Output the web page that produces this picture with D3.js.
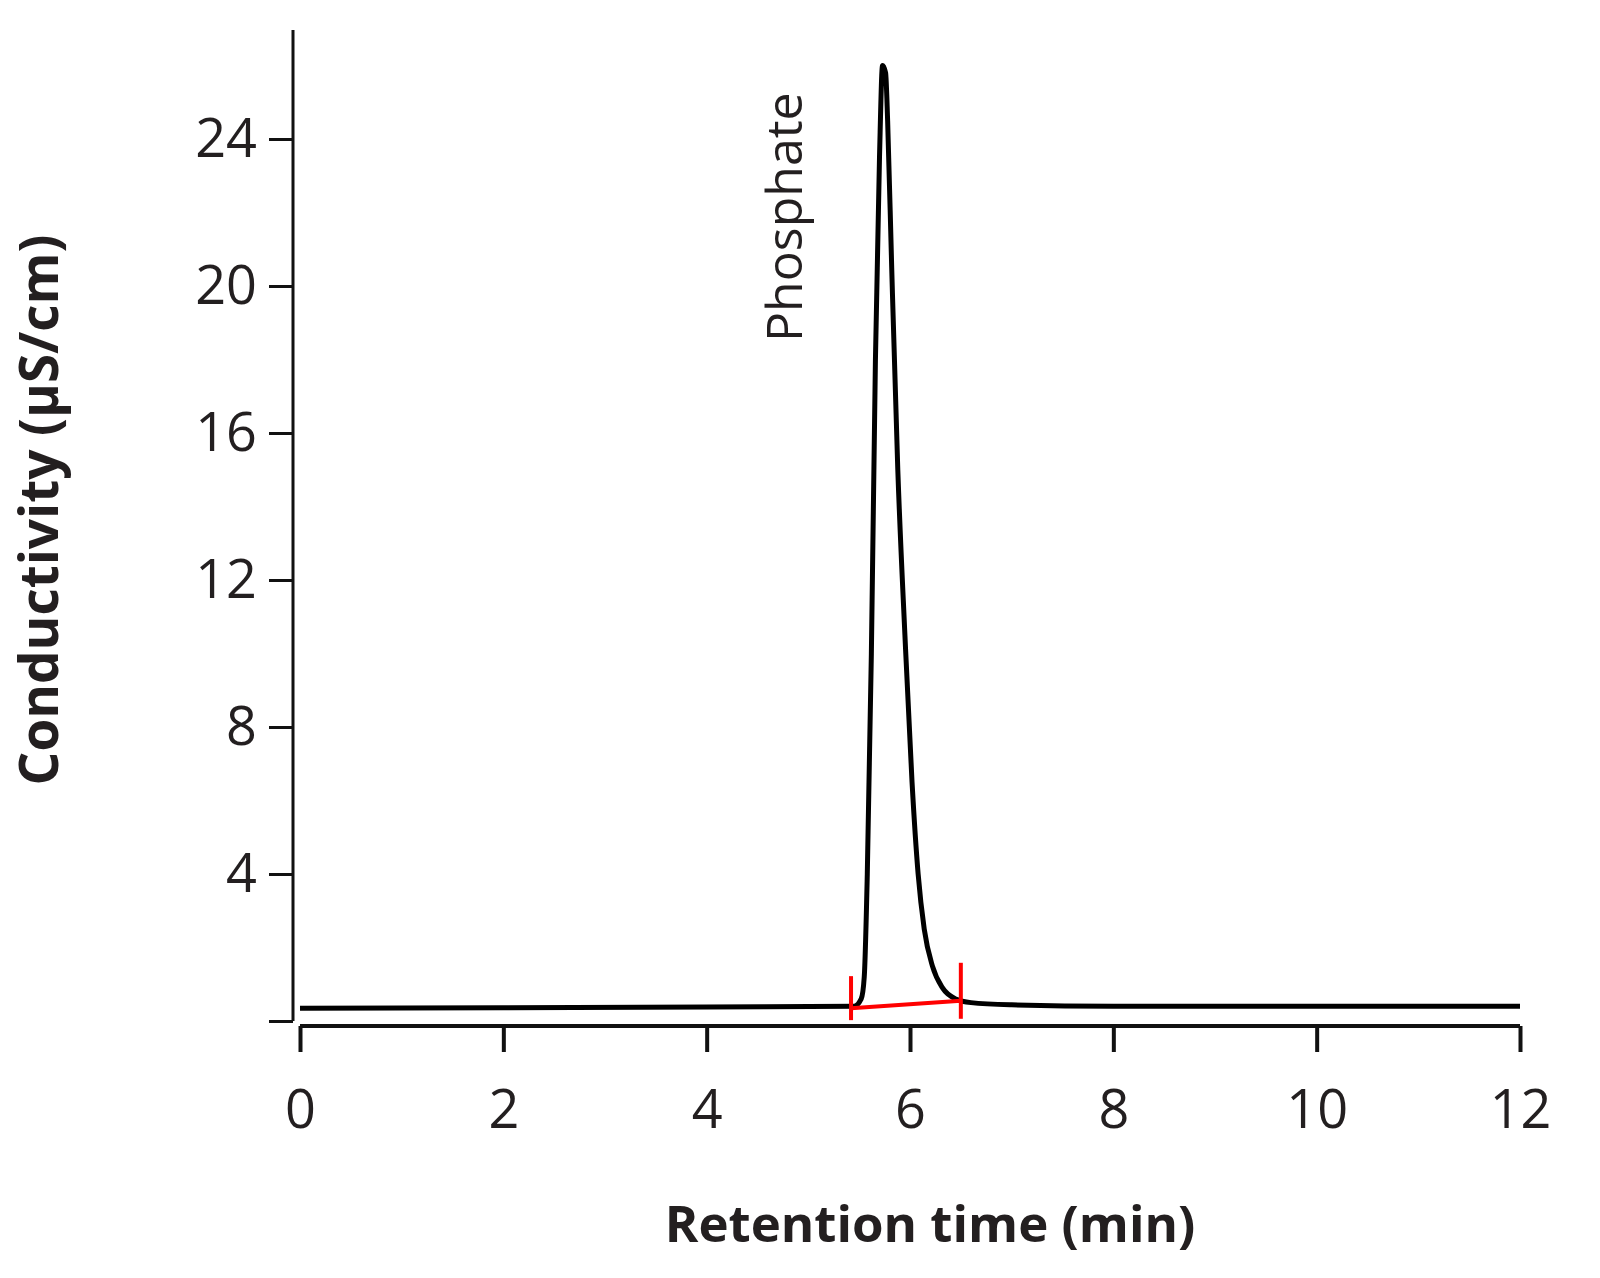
<!DOCTYPE html><html><head><meta charset="utf-8">
<script src="https://d3js.org/d3.v7.min.js"></script>
<style>body{margin:0;background:#fff}text{font-family:"Open Sans",sans-serif;fill:#231f20}</style></head><body>
<svg id="c" width="1600" height="1278"></svg>
<script>
const times=[0,2,4,5.45,5.52,5.55,5.58,5.62,5.66,5.70,5.73,5.76,5.78,5.82,5.88,5.95,6.02,6.08,6.14,6.22,6.32,6.45,6.6,7,8,10,12];
const signal=[0.35,0.36,0.38,0.40,0.6,1.2,4,10,18,23.5,26.0,25.8,24.5,20.5,15,10.5,6.5,4,2.5,1.5,0.9,0.6,0.5,0.44,0.4,0.4,0.4];
const xTicks=[0,2,4,6,8,10,12];
const yTicks=[0,4,8,12,16,20,24];
const baselineT=[5.42,6.5], baselineV=[0.35,0.55];
const peakLabel="Phosphate", peakT=5.6;

const svg=d3.select("#c");
const x=d3.scaleLinear().domain([0,12]).range([300,1520]);
const y=d3.scaleLinear().domain([0,24]).range([1021,139]);
svg.append("line").attr("x1",293).attr("x2",293).attr("y1",30).attr("y2",1021).attr("stroke","#111").attr("stroke-width",3);
const ya=svg.append("g").attr("transform","translate(293,0)").call(d3.axisLeft(y).tickValues(yTicks).tickSize(24).tickPadding(12).tickFormat(d=>d===0?"":d));
ya.select(".domain").remove();
ya.selectAll("line").attr("stroke","#111").attr("stroke-width",3);
ya.selectAll("text").attr("font-size",54).style("fill","#231f20");
const xa=svg.append("g").attr("transform","translate(0,1026)").call(d3.axisBottom(x).tickValues(xTicks).tickSize(26).tickPadding(38));
xa.select(".domain").remove();
svg.append("line").attr("x1",300).attr("x2",1520).attr("y1",1026).attr("y2",1026).attr("stroke","#111").attr("stroke-width",4);
xa.selectAll("line").attr("stroke","#111").attr("stroke-width",4);
xa.selectAll("text").attr("font-size",54).style("fill","#231f20");
svg.append("text").attr("x",930).attr("y",1242).attr("text-anchor","middle").attr("font-size",51).attr("font-weight","bold").text("Retention time (min)");
svg.append("text").attr("transform","translate(58,510) rotate(-90)").attr("text-anchor","middle").attr("font-size",53).attr("font-weight","bold").text("Conductivity (µS/cm)");
svg.append("path").datum(times.map((t,i)=>[t,signal[i]])).attr("fill","none").attr("stroke","#000").attr("stroke-width",5)
 .attr("d",d3.line().x(d=>x(d[0])).y(d=>y(d[1])).curve(d3.curveMonotoneX));
svg.append("line").attr("x1",x(baselineT[0])).attr("x2",x(baselineT[1])).attr("y1",y(baselineV[0])).attr("y2",y(baselineV[1])).attr("stroke","#f00").attr("stroke-width",4);
baselineT.forEach((t,i)=>svg.append("line").attr("x1",x(t)).attr("x2",x(t)).attr("y1",y(baselineV[i])-32+(i?-6:0)).attr("y2",y(baselineV[i])+12+(i?6:0)).attr("stroke","#f00").attr("stroke-width",4));
svg.append("text").attr("transform",`translate(${x(peakT)-67},342) rotate(-90)`).attr("font-size",50).text(peakLabel);
</script></body></html>
